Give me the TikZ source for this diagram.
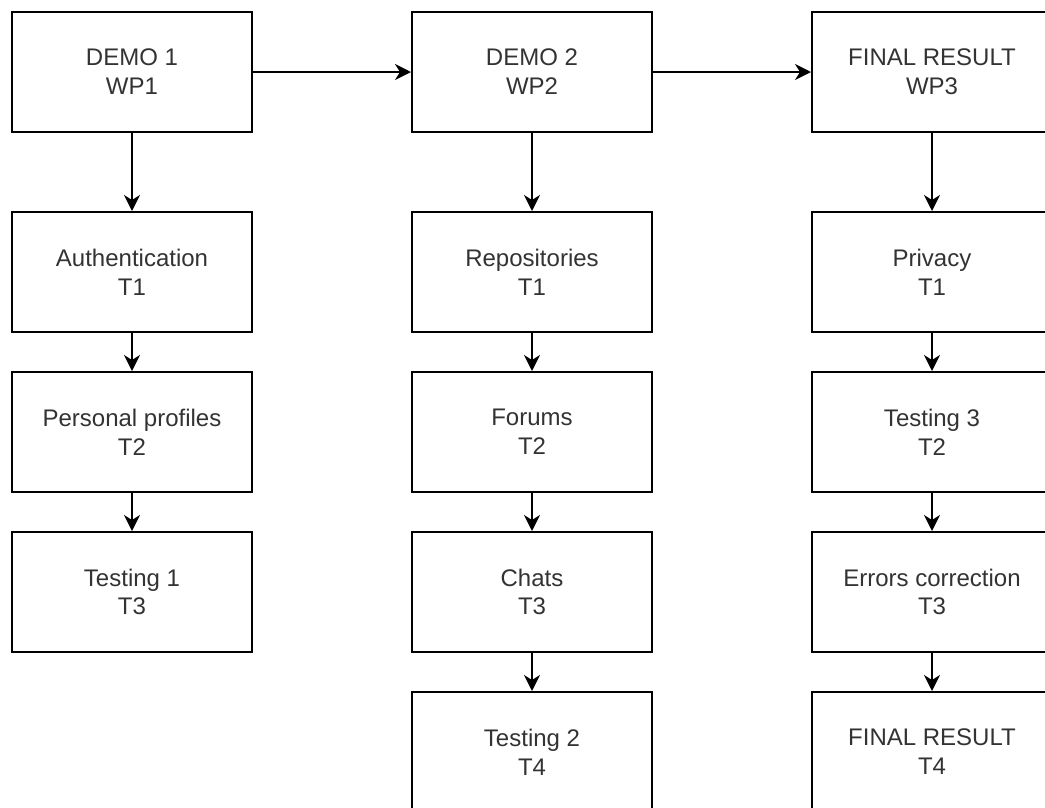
\documentclass[tikz,border=0pt]{standalone}
\usepackage{fontspec}
\setmainfont{Liberation Sans}
\usetikzlibrary{arrows.meta}
\definecolor{txt}{HTML}{333333}
\tikzset{
  box/.style={draw=black, line width=2pt, rectangle, minimum width=240pt, minimum height=120pt,
    align=center, text=txt, inner sep=0pt, font=\fontsize{24}{28.8}\selectfont},
  conn/.style={draw=black, line width=2pt, -{Stealth[length=16pt,width=16pt,inset=5pt]}}
}
\begin{document}
\begin{tikzpicture}[x=1pt,y=-1pt]
\useasboundingbox (0,0) rectangle (1045,807);
\fill[white] (0,0) rectangle (1045,807);
\clip (0,0) rectangle (1045,807);
% column 1
\node[box] (d1) at (132,72) {DEMO 1\\WP1};
\node[box] (a1) at (132,272) {Authentication\\T1};
\node[box] (a2) at (132,432) {Personal profiles\\T2};
\node[box] (a3) at (132,592) {Testing 1\\T3};
% column 2
\node[box] (d2) at (532,72) {DEMO 2\\WP2};
\node[box] (b1) at (532,272) {Repositories\\T1};
\node[box] (b2) at (532,432) {Forums\\T2};
\node[box] (b3) at (532,592) {Chats\\T3};
\node[box] (b4) at (532,752) {Testing 2\\T4};
% column 3
\node[box] (d3) at (932,72) {FINAL RESULT\\WP3};
\node[box] (c1) at (932,272) {Privacy\\T1};
\node[box] (c2) at (932,432) {Testing 3\\T2};
\node[box] (c3) at (932,592) {Errors correction\\T3};
\node[box] (c4) at (932,752) {FINAL RESULT\\T4};
% connectors
\draw[conn] (d1) -- (d2);
\draw[conn] (d2) -- (d3);
\draw[conn] (d1) -- (a1);
\draw[conn] (a1) -- (a2);
\draw[conn] (a2) -- (a3);
\draw[conn] (d2) -- (b1);
\draw[conn] (b1) -- (b2);
\draw[conn] (b2) -- (b3);
\draw[conn] (b3) -- (b4);
\draw[conn] (d3) -- (c1);
\draw[conn] (c1) -- (c2);
\draw[conn] (c2) -- (c3);
\draw[conn] (c3) -- (c4);
\end{tikzpicture}
\end{document}
